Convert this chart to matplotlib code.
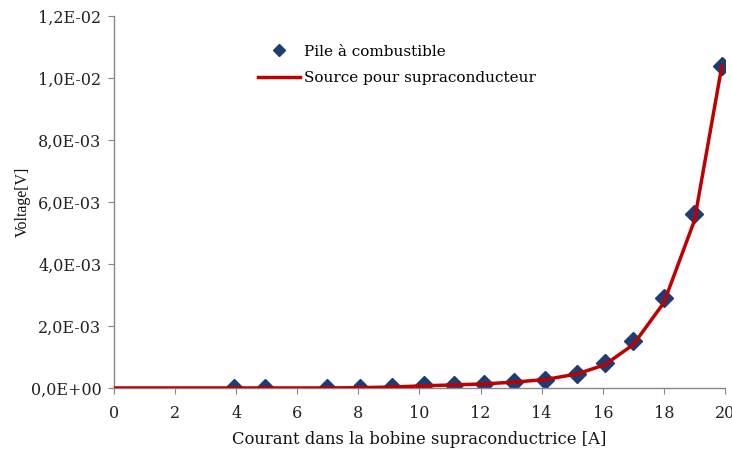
import matplotlib
matplotlib.use("Agg")
import matplotlib.pyplot as plt
from matplotlib.ticker import FuncFormatter
from matplotlib.lines import Line2D

# Data
courant_pts = [3.93, 4.94, 6.97, 8.05, 9.1, 10.15, 11.13, 12.1, 13.1, 14.1, 15.15, 16.07, 17.0, 18.0, 19.0, 19.9]
voltage_pts = [0.0, 0.0, 0.0, 0.0, 0.00003, 0.0001, 0.0001, 0.00013, 0.0002, 0.00026, 0.00045, 0.0008, 0.0015, 0.0029, 0.0056, 0.0104]

courant_line = [0.0, 3.93, 4.94, 6.97, 8.05, 9.1, 10.15, 11.13, 12.1, 13.1, 14.1, 15.15, 16.07, 17.0, 18.0, 19.0, 19.9]
voltage_line = [0.0, 0.0, 0.0, 0.0, 0.00001, 0.00003, 0.00007, 0.0001, 0.00013, 0.00019, 0.00027, 0.00045, 0.00075, 0.0014, 0.00275, 0.0054, 0.0104]

x_ticks = [0, 2, 4, 6, 8, 10, 12, 14, 16, 18, 20]
y_ticks = [0.0, 0.002, 0.004, 0.006, 0.008, 0.010, 0.012]

plt.rcParams['font.family'] = ['DejaVu Serif', 'Liberation Serif']

fig = plt.figure(figsize=(7.32, 4.55), dpi=100)
ax = fig.add_axes([0.1557, 0.1473, 0.8347, 0.8175])

line_color = '#C00000'
marker_color = '#1F3C73'

ax.plot(courant_pts, voltage_pts, linestyle='none', marker='D', markersize=9.5,
        color=marker_color, zorder=2)
ax.plot(courant_line, voltage_line, color=line_color, linewidth=2.5, zorder=3,
        solid_capstyle='round', solid_joinstyle='round')

ax.set_xlim(0, 20)
ax.set_ylim(0, 0.012)
ax.set_xticks(x_ticks)
ax.set_yticks(y_ticks)

def yfmt(v, pos):
    s = "%.1E" % v
    return s.replace('.', ',')

ax.yaxis.set_major_formatter(FuncFormatter(yfmt))
ax.xaxis.set_major_formatter(FuncFormatter(lambda v, p: "%d" % round(v)))

for side in ['top', 'right']:
    ax.spines[side].set_visible(False)
for side in ['left', 'bottom']:
    ax.spines[side].set_color('#868686')
    ax.spines[side].set_linewidth(1.0)

ax.tick_params(axis='both', direction='out', length=4, color='#868686',
               labelsize=11.5, labelcolor='#222222')
ax.tick_params(axis='x', pad=8)
ax.tick_params(axis='y', pad=5)

ax.set_xlabel("Courant dans la bobine supraconductrice [A]", fontsize=11.8,
              color='#111111', labelpad=7)
ax.set_ylabel("Voltage[V]", fontsize=11.5, color='#111111', labelpad=0,
              family=['Liberation Serif', 'DejaVu Serif'])

handles = [
    Line2D([], [], linestyle='none', marker='D', markersize=6.5, color=marker_color),
    Line2D([], [], color=line_color, linewidth=2.5),
]
ax.legend(handles, ["Pile à combustible", "Source pour supraconducteur"],
          loc='upper left', bbox_to_anchor=(0.213, 0.96), frameon=False,
          fontsize=11, handlelength=2.75, handletextpad=0.26, labelspacing=0.8)

fig.savefig("out.png", dpi=100)
